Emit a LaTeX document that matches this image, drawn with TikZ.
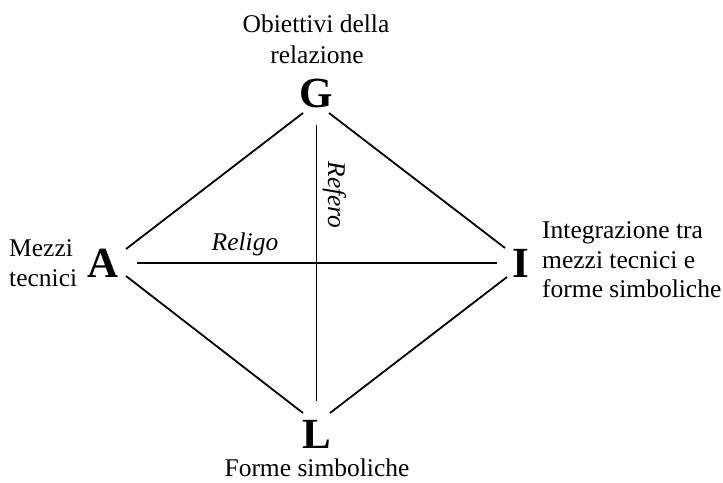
\documentclass[tikz,border=0pt]{standalone}
\usepackage{fontspec}
\setmainfont{Liberation Serif}
\begin{document}
\begin{tikzpicture}[x=1pt,y=-1pt,
  lbl/.style={inner sep=0pt,font=\fontsize{25.5}{30}\selectfont},
  vtx/.style={inner sep=0pt,font=\fontsize{43}{48}\selectfont\bfseries},
  edge/.style={line width=1.8pt}]
\useasboundingbox (0,0) rectangle (723,482);
\fill[white] (0,0) rectangle (723,482);
% vertices
\node[vtx,anchor=base] (G) at (316,107) {G};
\node[vtx,anchor=base] (A) at (103,277) {A};
\node[vtx,anchor=base] (I) at (521,277) {I};
\node[vtx,anchor=base] (L) at (316.5,448) {L};
% labels
\node[lbl,anchor=base] (g1) at (316,32) {Obiettivi della};
\node[lbl,anchor=base] (g2) at (317,63) {relazione};
\node[lbl,anchor=base west] (a1) at (9,256) {Mezzi};
\node[lbl,anchor=base west] (a2) at (9,286) {tecnici};
\node[lbl,anchor=base west] (i1) at (542,238) {Integrazione tra};
\node[lbl,anchor=base west] (i2) at (542,268) {mezzi tecnici e};
\node[lbl,anchor=base west] (i3) at (542,297) {forme simboliche};
\node[lbl,anchor=base] (l1) at (317,476) {Forme simboliche};
\node[lbl,anchor=base,font=\fontsize{25.5}{30}\selectfont\itshape] (rel) at (245,250) {Religo};
\node[lbl,anchor=base,rotate=-90,font=\fontsize{25.5}{30}\selectfont\itshape] (ref) at (328,195) {Refero};
% connector ends
\coordinate (GA) at (303,113);
\coordinate (AG) at (126,249);
\coordinate (GI) at (329,113);
\coordinate (IG) at (505,248);
\coordinate (AL) at (126,276);
\coordinate (LA) at (303,413);
\coordinate (IL) at (507,277);
\coordinate (LI) at (330,413);
\coordinate (AI) at (137,263);
\coordinate (IA) at (497,263);
\coordinate (GL) at (316.5,125);
\coordinate (LG) at (316.5,401);
\draw[edge] (GA) -- (AG);
\draw[edge] (GI) -- (IG);
\draw[edge] (AL) -- (LA);
\draw[edge] (IL) -- (LI);
\draw[edge] (AI) -- (IA);
\draw[edge] (GL) -- (LG);
\end{tikzpicture}
\end{document}
